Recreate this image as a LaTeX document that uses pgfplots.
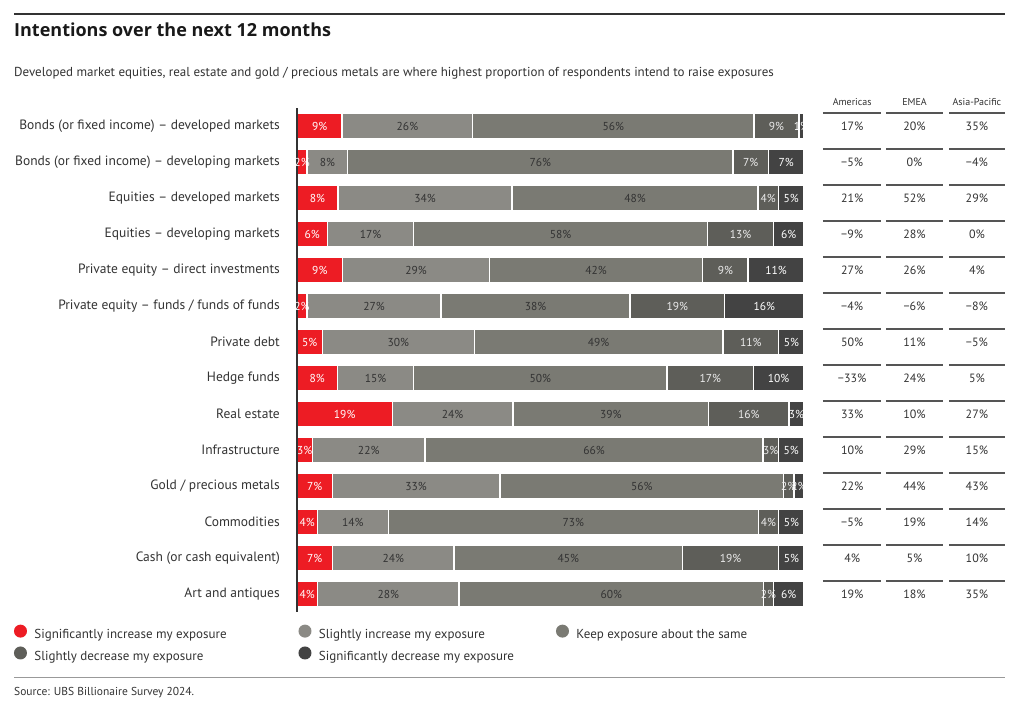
\documentclass[border=0pt]{standalone}
\usepackage{fontspec}
\setmainfont{PT Sans}
\newfontfamily\titlefont{Open Sans}
\usepackage{pgfplots}
\usepackage{pgfplotstable}
\pgfplotsset{compat=1.18}

\definecolor{sigup}{HTML}{ED1C24}
\definecolor{slup}{HTML}{8B8A85}
\definecolor{keep}{HTML}{7A7A73}
\definecolor{sldown}{HTML}{5E5E59}
\definecolor{sigdown}{HTML}{434343}
\definecolor{txt}{HTML}{333333}
\definecolor{rule}{HTML}{555555}

% share of respondents per intention (row 0 = top)
\pgfplotstableread{
y a b c d e
0 9 26 56 9 1
1 2 8 76 7 7
2 8 34 48 4 5
3 6 17 58 13 6
4 9 29 42 9 11
5 2 27 38 19 16
6 5 30 49 11 5
7 8 15 50 17 10
8 19 24 39 16 3
9 3 22 66 3 5
10 7 33 56 2 2
11 4 14 73 4 5
12 7 24 45 19 5
13 4 28 60 2 6
}\shares
% rounded shares do not always add up to 100: bars are drawn as 100 %
\pgfplotstablecreatecol[expr={\thisrow{a}+\thisrow{b}+\thisrow{c}+\thisrow{d}+\thisrow{e}}]{tot}{\shares}

% net intention by region
\pgfplotstableread{
y am em ap
0 17 20 35
1 −5 0 −4
2 21 52 29
3 −9 28 0
4 27 26 4
5 −4 −6 −8
6 50 11 −5
7 −33 24 5
8 33 10 27
9 10 29 15
10 22 44 43
11 −5 19 14
12 4 5 10
13 19 18 35
}\regions

\newcommand{\lab}[1]{\fontsize{#1}{#1}\selectfont}
\newcommand{\legdot}[1]{\fill[#1, draw=none] (6.5pt,4pt) circle (6.5pt); \path[draw=none, fill=none] (0pt,4pt) -- (20.5pt,4pt);}

\begin{document}
\begin{tikzpicture}
\useasboundingbox (0,0) rectangle (1024pt,-706pt);
\fill[white] (0,0) rectangle (1024pt,-706pt);

\draw[line width=1.2pt, txt] (14pt,-14pt) -- (1005pt,-14pt);
\node[anchor=base west, inner sep=0pt, font=\titlefont\bfseries\lab{18}, text=black!90]
  at (14pt,-37pt) {Intentions over the next 12 months};
\node[anchor=base west, inner sep=0pt, font=\lab{13}, text=txt]
  at (14pt,-77pt) {Developed market equities, real estate and gold / precious metals are where highest proportion of respondents intend to raise exposures};

\begin{axis}[
  at={(297pt,-612pt)}, anchor=south west,
  scale only axis, width=507pt, height=504pt,
  xmin=0, xmax=100, ymin=-0.5, ymax=13.5, y dir=reverse,
  xbar stacked, bar width=25.5pt,
  clip=false,
  axis lines*=left, axis line style={-},
  x axis line style={draw=none},
  y axis line style={draw=txt, line width=1.5pt},
  xtick=\empty, ytick={0,...,13}, major tick length=0pt,
  yticklabels={
    Bonds (or fixed income) – developed markets,
    Bonds (or fixed income) – developing markets,
    Equities – developed markets,
    Equities – developing markets,
    Private equity – direct investments,
    Private equity – funds / funds of funds,
    Private debt,
    Hedge funds,
    Real estate,
    Infrastructure,
    Gold / precious metals,
    Commodities,
    Cash (or cash equivalent),
    Art and antiques},
  yticklabel style={font=\lab{13.5}, text=txt, inner sep=0pt, xshift=-17pt},
  axis on top,
  point meta=explicit,
  nodes near coords={\pgfmathprintnumber[assume math mode=true]{\pgfplotspointmeta}\%},
  nodes near coords align=center,
  every node near coord/.append style={font=\lab{11.5}, inner sep=0pt},
  legend columns=3, legend cell align=left,
  legend style={at={(axis cs:-55.82,13.85)}, anchor=north west, draw=none,
    inner sep=0pt, outer sep=0pt, row sep=6pt, column sep=0pt,
    nodes={inner sep=0pt, font=\lab{13}, text=txt}},
]
\addplot[fill=sigup, draw=white, line width=1.5pt,
  legend image code/.code={\legdot{sigup}},
  every node near coord/.append style={text=white}]
  table[x expr=\thisrow{a}*100/\thisrow{tot}, y=y, meta=a] {\shares};
\addlegendentry{\makebox[264pt][l]{Significantly increase my exposure}}
\addplot[fill=slup, draw=white, line width=1.5pt,
  legend image code/.code={\legdot{slup}},
  every node near coord/.append style={text=txt}]
  table[x expr=\thisrow{b}*100/\thisrow{tot}, y=y, meta=b] {\shares};
\addlegendentry{\makebox[237pt][l]{Slightly increase my exposure}}
\addplot[fill=keep, draw=white, line width=1.5pt,
  legend image code/.code={\legdot{keep}},
  every node near coord/.append style={text=txt}]
  table[x expr=\thisrow{c}*100/\thisrow{tot}, y=y, meta=c] {\shares};
\addlegendentry{Keep exposure about the same}
\addplot[fill=sldown, draw=white, line width=1.5pt,
  legend image code/.code={\legdot{sldown}},
  every node near coord/.append style={text=white!92!black}]
  table[x expr=\thisrow{d}*100/\thisrow{tot}, y=y, meta=d] {\shares};
\addlegendentry{Slightly decrease my exposure}
\addplot[fill=sigdown, draw=white, line width=1.5pt,
  legend image code/.code={\legdot{sigdown}},
  every node near coord/.append style={text=white}]
  table[x expr=\thisrow{e}*100/\thisrow{tot}, y=y, meta=e] {\shares};
\addlegendentry{Significantly decrease my exposure}
\end{axis}

\begin{axis}[
  at={(297pt,-612pt)}, anchor=south west,
  scale only axis, width=507pt, height=504pt,
  xmin=0, xmax=100, ymin=-0.5, ymax=13.5, y dir=reverse,
  hide axis, clip=false,
  point meta=explicit symbolic,
  nodes near coords={\pgfplotspointmeta\%},
  every node near coord/.style={anchor=center, font=\lab{12}, text=txt},
]
\addplot[draw=none, mark=none] table[x expr=109.5, y=y, meta=am] {\regions};
\addplot[draw=none, mark=none] table[x expr=121.8, y=y, meta=em] {\regions};
\addplot[draw=none, mark=none] table[x expr=134.1, y=y, meta=ap] {\regions};
\node[font=\lab{10}, text=txt] at (axis cs:109.5,-0.667) {Americas};
\node[font=\lab{10}, text=txt] at (axis cs:121.8,-0.667) {EMEA};
\node[font=\lab{10}, text=txt] at (axis cs:134.1,-0.667) {Asia-Pacific};
\pgfplotsinvokeforeach{0,...,13}{
  \draw[rule, line width=1.4pt] (axis cs:103.7,#1-0.361) -- (axis cs:115.2,#1-0.361);
  \draw[rule, line width=1.4pt] (axis cs:116.2,#1-0.361) -- (axis cs:127.4,#1-0.361);
  \draw[rule, line width=1.4pt] (axis cs:128.6,#1-0.361) -- (axis cs:139.6,#1-0.361);
}
\end{axis}

\draw[line width=0.8pt, black!40] (14pt,-677pt) -- (1005pt,-677pt);
\node[anchor=base west, inner sep=0pt, font=\lab{11.5}, text=txt]
  at (14pt,-695pt) {Source: UBS Billionaire Survey 2024.};
\end{tikzpicture}
\end{document}
